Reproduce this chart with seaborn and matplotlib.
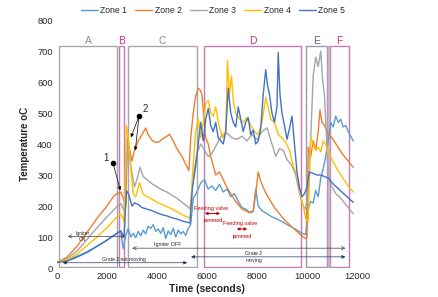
import numpy as np
import pandas as pd
import seaborn as sns
import matplotlib.pyplot as plt
from matplotlib.patches import Rectangle

# zone temperature readings (time in s, temperature in oC)
t_zone1 = [0, 400, 800, 1200, 1600, 2000, 2400, 2550, 2650, 2750, 2850, 2950, 3050, 3150, 3250,
           3350, 3450, 3550, 3650, 3750, 3850, 3950, 4050, 4150, 4250, 4350, 4450, 4550, 4650,
           4750, 4850, 4950, 5050, 5150, 5250, 5350, 5450, 5600, 5750, 5900, 6050, 6200, 6350,
           6500, 6650, 6800, 6950, 7100, 7250, 7400, 7550, 7700, 7850, 7950, 8050, 8200, 8400,
           8600, 8800, 9000, 9200, 9400, 9600, 9800, 9950, 10050, 10150, 10250, 10350, 10450,
           10550, 10650, 10750, 10850, 10950, 11050, 11150, 11250, 11350, 11450, 11550, 11650,
           11750, 11850]
zone1 = [18, 25, 38, 52, 70, 90, 112, 118, 62, 105, 128, 100, 112, 98, 118,
         104, 122, 110, 135, 128, 140, 118, 126, 112, 130, 95, 120, 108, 128,
         100, 122, 110, 118, 105, 128, 140, 225, 245, 275, 285, 255, 265, 250,
         270, 245, 255, 230, 240, 215, 195, 190, 180, 185, 255, 200, 185, 175,
         165, 158, 150, 140, 132, 122, 112, 108, 190, 215, 210, 250, 230,
         290, 320, 360, 410, 470, 455, 490, 470, 480, 455, 460, 440,
         425, 410]

t_zone2 = [0, 400, 800, 1200, 1600, 2000, 2300, 2450, 2550, 2650, 2750, 2820, 2900, 3000, 3100,
           3250, 3400, 3550, 3650, 3800, 3950, 4100, 4250, 4400, 4500, 4650, 4800, 5000, 5150,
           5280, 5350, 5450, 5550, 5650, 5720, 5800, 5880, 5950, 6050, 6150, 6250, 6350, 6500,
           6650, 6800, 6950, 7100, 7250, 7400, 7550, 7700, 7850, 7950, 8050, 8150, 8250, 8400,
           8550, 8700, 8900, 9100, 9300, 9500, 9700, 9850, 9950, 10000, 10050, 10150, 10250,
           10350, 10450, 10520, 10600, 10700, 10800, 11000, 11200, 11400, 11600, 11850]
zone2 = [18, 35, 70, 115, 160, 200, 235, 242, 245, 225, 205, 420, 385, 345, 380,
         410, 430, 452, 430, 412, 405, 408, 418, 425, 432, 410, 385, 360, 335,
         315, 420, 500, 555, 580, 575, 560, 480, 420, 400, 360, 330, 300, 310,
         285, 260, 240, 220, 205, 190, 185, 178, 182, 240, 310, 280, 260, 235,
         215, 195, 175, 155, 140, 125, 110, 100, 95, 100, 390, 360, 410,
         380, 440, 510, 470, 460, 440, 420, 395, 370, 350, 325]

t_zone3 = [0, 400, 800, 1200, 1600, 2000, 2400, 2550, 2680, 2780, 2850, 2950, 3100, 3200, 3320,
           3450, 3600, 3800, 4000, 4200, 4400, 4600, 4800, 5000, 5200, 5320, 5450, 5600, 5750,
           5900, 6050, 6200, 6400, 6600, 6800, 7000, 7200, 7400, 7600, 7800, 8000, 8200, 8400,
           8600, 8750, 8900, 9050, 9200, 9400, 9550, 9700, 9850, 9950, 10050, 10150, 10250,
           10350, 10450, 10550, 10620, 10700, 10780, 10850, 10950, 11150, 11350, 11550, 11850]
zone3 = [18, 30, 55, 92, 130, 165, 198, 208, 185, 330, 415, 330, 262, 285, 325,
         295, 285, 272, 262, 252, 245, 235, 225, 212, 200, 190, 290, 370, 400,
         380, 360, 370, 400, 430, 435, 420, 415, 425, 410, 430, 415, 440, 452,
         400, 360, 385, 380, 350, 330, 300, 240, 200, 190, 250, 420, 620,
         680, 650, 700, 610, 560, 420, 300, 270, 240, 225, 205, 175]

t_zone4 = [0, 400, 800, 1200, 1600, 2000, 2400, 2550, 2680, 2780, 2850, 2950, 3050, 3150, 3300,
           3450, 3600, 3800, 4000, 4200, 4400, 4600, 4800, 5000, 5200, 5320, 5420, 5550, 5650,
           5750, 5850, 5950, 6050, 6150, 6250, 6350, 6450, 6550, 6650, 6750, 6820, 6900, 6980,
           7050, 7150, 7300, 7450, 7600, 7750, 7900, 8050, 8200, 8350, 8450, 8550, 8700, 8850,
           9000, 9150, 9300, 9450, 9600, 9750, 9850, 9950, 10050, 10150, 10250, 10350, 10450,
           10550, 10650, 10750, 10850, 11000, 11200, 11400, 11600, 11850]
zone4 = [18, 26, 45, 72, 100, 130, 165, 175, 150, 460, 420, 320, 240, 230, 275,
         238, 230, 222, 212, 205, 198, 190, 182, 172, 165, 158, 300, 440, 480,
         420, 470, 530, 540, 500, 490, 520, 470, 440, 420, 440, 670, 560, 620,
         540, 500, 480, 470, 485, 460, 440, 430, 470, 550, 520, 480, 470, 430,
         420, 405, 380, 330, 300, 230, 200, 160, 150, 420, 400, 380, 390,
         375, 410, 400, 370, 350, 320, 295, 270, 245]

t_zone5 = [0, 400, 800, 1200, 1600, 2000, 2400, 2550, 2680, 2780, 2880, 3000, 3100, 3250, 3400,
           3600, 3800, 4000, 4200, 4400, 4600, 4800, 5000, 5200, 5320, 5420, 5550, 5650, 5750,
           5850, 5950, 6050, 6150, 6250, 6350, 6450, 6550, 6650, 6750, 6850, 6950, 7050, 7150,
           7250, 7350, 7450, 7550, 7650, 7750, 7850, 7950, 8050, 8150, 8250, 8350, 8420, 8500,
           8600, 8700, 8800, 8850, 8920, 9000, 9100, 9200, 9300, 9400, 9500, 9600, 9700, 9800,
           9900, 10000, 10100, 10250, 10400, 10550, 10700, 10850, 11000, 11200, 11400, 11600,
           11850]
zone5 = [18, 22, 35, 50, 70, 90, 112, 120, 100, 250, 235, 200, 210, 205, 195,
         190, 185, 178, 172, 168, 162, 158, 152, 148, 145, 260, 330, 400, 470,
         410, 480, 515, 460, 440, 470, 420, 410, 400, 440, 580, 500, 470, 455,
         520, 480, 440, 470, 485, 430, 445, 400, 410, 450, 560, 640, 590, 560,
         500, 470, 520, 695, 560, 500, 460, 415, 450, 490, 400, 310, 260, 230,
         240, 260, 310, 305, 300, 300, 295, 290, 275, 260, 245, 230,
         212]

zone_names = ['Zone 1', 'Zone 2', 'Zone 3', 'Zone 4', 'Zone 5']
zone_colors = ['#5B9BD5', '#ED7D31', '#A5A5A5', '#FFC000', '#4472C4']

# process phases
phase_names = ['A', 'B', 'C', 'D', 'E', 'F']
phase_start = [80, 2490, 2830, 5880, 9950, 10930]
phase_end = [2410, 2690, 5590, 9770, 10810, 11690]
phase_edge = ['#a6a6a6', '#c47bb4', '#a6a6a6', '#c47bb4', '#9d99ad', '#c47bb4']
phase_text = ['#8c8c8c', '#c0309a', '#8c8c8c', '#c0309a', '#5f5f8f', '#c0309a']

frames = []
for name, t, v in zip(zone_names, [t_zone1, t_zone2, t_zone3, t_zone4, t_zone5],
                      [zone1, zone2, zone3, zone4, zone5]):
    frames.append(pd.DataFrame({'time': t, 'temp': v, 'zone': name}))
df = pd.concat(frames, ignore_index=True)

sns.set_style('white')
plt.rcParams['font.family'] = ['Liberation Sans', 'DejaVu Sans']

fig = plt.figure(figsize=(4.38, 2.97), dpi=100)
ax = fig.add_axes([0.1301, 0.0976, 0.6849, 0.835])

# phase boxes
for n, s, e, ec, tc in zip(phase_names, phase_start, phase_end, phase_edge, phase_text):
    ax.add_patch(Rectangle((s, 3), e - s, 713, fill=False, ec=ec, lw=1.0, zorder=1))
    ax.text((s + e) / 2, 716, n, color=tc, fontsize=7.5, ha='center', va='bottom')
ax.add_patch(Rectangle((10810, 3), 120, 713, fc='#cdb2cb', ec='#b995b5', lw=0.6, zorder=1))

sns.lineplot(data=df, x='time', y='temp', hue='zone', palette=zone_colors,
             estimator=None, sort=False, lw=1.0, ax=ax, zorder=3)

ax.set_xlim(0, 12000)
ax.set_ylim(0, 800)
ax.set_xticks([0, 2000, 4000, 6000, 8000, 10000, 12000])
ax.set_yticks(range(0, 801, 100))
ax.tick_params(labelsize=6.7, length=0, pad=3, colors='#262626')
ax.set_xlabel('Time (seconds)', fontsize=7.5, fontweight='bold', labelpad=2)
ax.set_ylabel('Temperature oC', fontsize=7, fontweight='bold', labelpad=5)
sns.despine(ax=ax, left=True, bottom=True)

sns.move_legend(ax, 'lower center', bbox_to_anchor=(0.52, 1.0), ncol=5, frameon=False,
                title=None, fontsize=6.2, handlelength=2.0, columnspacing=0.9,
                handletextpad=0.3, borderaxespad=0.2)

# numbered markers
ax.plot([2240], [339], 'o', color='black', ms=3, zorder=5)
ax.annotate('', xy=(2560, 242), xytext=(2240, 339),
            arrowprops=dict(arrowstyle='-|>', color='black', lw=0.5, mutation_scale=5), zorder=5)
ax.text(1950, 355, '1', fontsize=7, ha='center', va='center')
ax.plot([3280], [490], 'o', color='black', ms=3, zorder=5)
ax.annotate('', xy=(2920, 413), xytext=(3280, 490),
            arrowprops=dict(arrowstyle='-|>', color='black', lw=0.5, mutation_scale=5), zorder=5)
ax.annotate('', xy=(3120, 370), xytext=(3280, 490),
            arrowprops=dict(arrowstyle='-|>', color='black', lw=0.5, mutation_scale=5), zorder=5)
ax.text(3520, 512, '2', fontsize=7, ha='center', va='center')

# igniter / grate arrows
ax.annotate('', xy=(320, 102), xytext=(2840, 102),
            arrowprops=dict(arrowstyle='<->', color='#404040', lw=0.5, mutation_scale=6))
ax.text(1040, 104, 'Igniter', fontsize=3.6, ha='center', va='bottom')
ax.text(1040, 100, 'ON', fontsize=3.6, ha='center', va='top')
ax.annotate('', xy=(2900, 64), xytext=(11650, 64),
            arrowprops=dict(arrowstyle='<->', color='#404040', lw=0.5, mutation_scale=6))
ax.text(4450, 68, 'Igniter OFF', fontsize=3.9, ha='center', va='bottom')
ax.annotate('', xy=(120, 17), xytext=(5320, 17),
            arrowprops=dict(arrowstyle='<|-|>', color='#1f3864', lw=0.5, mutation_scale=5))
ax.text(2680, 21, 'Grate 2 not moving', fontsize=3.7, ha='center', va='bottom')
ax.annotate('', xy=(5250, 36), xytext=(11650, 36),
            arrowprops=dict(arrowstyle='<|-|>', color='#1f3864', lw=0.5, mutation_scale=5))
ax.text(7880, 39, 'Grate 2', fontsize=3.7, ha='center', va='bottom')
ax.text(7880, 32, 'moving', fontsize=3.7, ha='center', va='top')

# feeding valve jammed
red = '#c00000'
ax.text(6160, 193, 'Feeding valve', fontsize=4.0, color=red, ha='center', va='center', zorder=6)
ax.annotate('', xy=(5800, 176), xytext=(6640, 176),
            arrowprops=dict(arrowstyle='<|-|>', color=red, lw=0.7, mutation_scale=4), zorder=6)
ax.text(6240, 152, 'jammed', fontsize=4.0, color=red, ha='center', va='center', zorder=6)
ax.text(7320, 145, 'Feeding valve', fontsize=4.0, color=red, ha='center', va='center', zorder=6)
ax.annotate('', xy=(7080, 126), xytext=(7720, 126),
            arrowprops=dict(arrowstyle='<|-|>', color=red, lw=0.7, mutation_scale=4), zorder=6)
ax.text(7400, 103, 'jammed', fontsize=4.0, color=red, ha='center', va='center', zorder=6)

fig.savefig('out.png', dpi=100)
